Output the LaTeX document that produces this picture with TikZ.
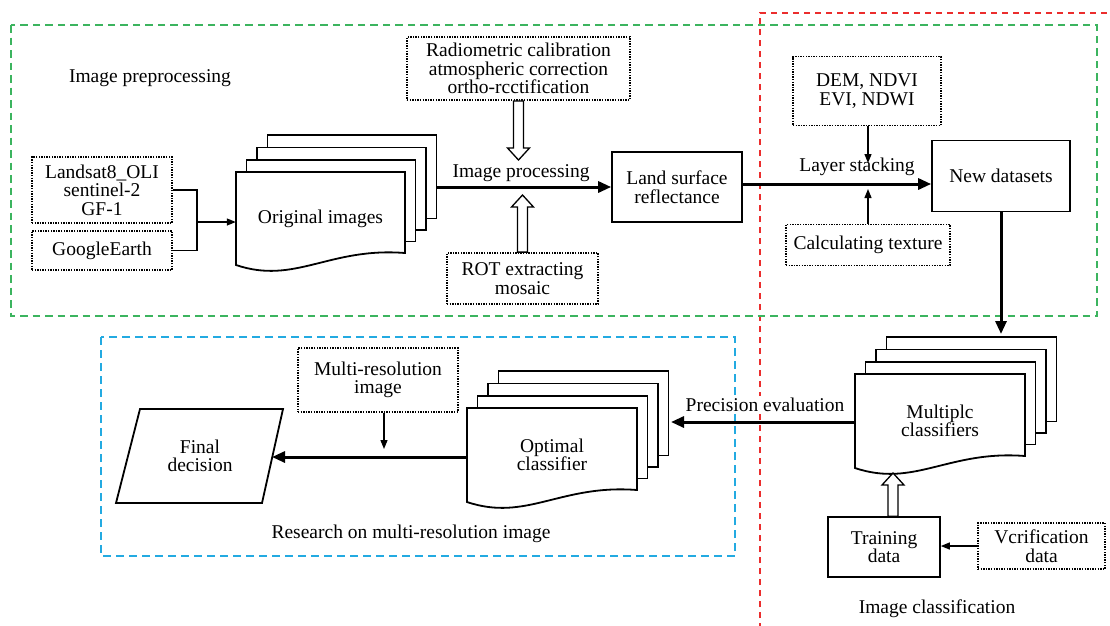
\documentclass[tikz,border=0pt]{standalone}
\usepackage{fontspec}
\setmainfont{Liberation Serif}
\newfontfamily\tnr{Liberation Serif}
\usetikzlibrary{arrows.meta,calc}
\definecolor{grn}{RGB}{60,180,95}
\definecolor{rd}{RGB}{235,45,45}
\definecolor{blu}{RGB}{35,170,225}
\tikzset{
  txt/.style={font=\tnr\rmfamily\fontsize{19.5}{18.5}\selectfont, align=center, inner sep=0pt},
  solidbox/.style={txt, draw, line width=1.6pt, fill=white},
  dotbox/.style={txt, draw, line width=1.8pt, dash pattern=on 1.4pt off 1.2pt, fill=white},
  sheet/.style={draw, line width=1.8pt, fill=white, line join=miter},
  thick arrow/.style={line width=3pt, -{Triangle[length=13pt,width=11pt]}},
  thin arrow/.style={line width=1.3pt, -{Triangle[length=9pt,width=7pt]}},
  plain line/.style={line width=1.8pt},
  hollow/.style={draw, line width=1.3pt, fill=white, line join=miter},
}
\newcommand\docstack[6]{%
  \foreach \k in {3,2,1} {
    \draw[sheet] ({#2+10.5*\k},{#3-12.3*\k}) rectangle ({#4+10.5*\k},{#5-12-11.5*\k});
  }
  \draw[sheet] (#2,#3) -- (#4,#3) -- (#4,{#5-12}) .. controls ({#2+0.55*(#4-#2)},{#5-18}) and ({#2+0.35*(#4-#2)},{#5+20}) .. (#2,#5) -- cycle;
  \node[txt, minimum width={(#4-#2)*1pt}, minimum height={(#5-#3)*1pt}] (#1) at ({(#2+#4)/2},{(#3+#5)/2}) {#6};
}
\newcommand\hollowarrow[2]{%
  \path[hollow] let \p1=(#1), \p2=(#2), \n1={sign(\y2-\y1)} in
    ({\x1-5pt},\y1) -- ({\x1-5pt},{\y2-\n1*12pt}) -- ({\x1-11pt},{\y2-\n1*12pt}) -- (\x1,\y2)
    -- ({\x1+11pt},{\y2-\n1*12pt}) -- ({\x1+5pt},{\y2-\n1*12pt}) -- ({\x1+5pt},\y1) -- cycle;
}
\begin{document}
\begin{tikzpicture}[x=1pt,y=-1pt]
\useasboundingbox (0,0) rectangle (1110,625);
\fill[white] (0,0) rectangle (1110,625);

% region frames
\begin{scope}
\clip (0,0) rectangle (1110,625);
\draw[rd, line width=1.6pt, dash pattern=on 6pt off 5pt] (760,640) -- (760,13) -- (1125,13);
\end{scope}
\draw[grn, line width=2.2pt, dash pattern=on 7.5pt off 5pt] (11,25) rectangle (1097,316);
\draw[blu, line width=2.5pt, dash pattern=on 8pt off 5pt] (101,337) rectangle (735,556);

% region titles
\node[txt] (t1) at (150,78) {Image preprocessing};
\node[txt] (t2) at (411,534) {Research on multi-resolution image};
\node[txt] (t3) at (937,609) {Image classification};

% preprocessing
\node[dotbox, minimum width=140pt, minimum height=66pt] (land) at (102,190) {Landsat8\_OLI\\sentinel-2\\GF-1};
\node[dotbox, minimum width=140pt, minimum height=39pt] (ge) at (102,250.5) {GoogleEarth};
\docstack{orig}{236}{172}{405}{265}{Original images}
\coordinate (jn) at (197,222);
\coordinate (origback) at (437,187);
\draw[plain line] (land.east) -| (jn);
\draw[plain line] (ge.east) -| (jn);
\draw[thin arrow] (jn) -- (jn -| orig.west);

\node[dotbox, minimum width=223pt, minimum height=63pt] (rad) at (518.5,68.5) {Radiometric calibration\\atmospheric correction\\ortho-rcctification};
\node[dotbox, minimum width=151pt, minimum height=51pt] (rot) at (522.5,278.5) {ROT extracting\\mosaic};
\node[solidbox, minimum width=130pt, minimum height=70pt] (lsr) at (677,187) {Land surface\\reflectance};
\node[txt] (ip) at (521,173) {Image processing};
\coordinate (ipdown) at (520,160);
\coordinate (ipup) at (520,195);
\hollowarrow{rad.south}{ipdown}
\hollowarrow{rot.north}{ipup}
\draw[thick arrow] (origback) -- (origback -| lsr.west);

% layer stacking
\node[dotbox, minimum width=148pt, minimum height=69pt] (dem) at (867,91) {DEM, NDVI\\EVI, NDWI};
\node[dotbox, minimum width=164pt, minimum height=41pt] (calc) at (868,245) {Calculating texture};
\node[solidbox, minimum width=138pt, minimum height=71pt] (nd) at (1001,176) {New datasets};
\node[txt] (ls) at (857,167) {Layer stacking};
\coordinate (lsj) at (868,184);
\coordinate (lsdown) at (868,163);
\coordinate (lsup) at (868,189);
\draw[thick arrow] (lsr.east |- lsj) -- (nd.west |- lsj);
\draw[thin arrow] (dem.south -| lsdown) -- (lsdown);
\draw[thin arrow] (calc.north -| lsup) -- (lsup);

% classification
\docstack{mc}{855}{374}{1025}{468}{Multiplc\\classifiers}
\coordinate (mctop) at (1001,334);
\draw[thick arrow] (nd.south -| mctop) -- (mctop);
\node[solidbox, minimum width=112pt, minimum height=60pt] (train) at (884,547) {Training\\data};
\node[dotbox, minimum width=127pt, minimum height=46pt] (ver) at (1041.5,546) {Vcrification\\data};
\draw[thin arrow] (ver.west) -- (train.east |- ver.west);
\coordinate (mcbot) at (893,473);
\hollowarrow{train.north -| mcbot}{mcbot}

% multi-resolution research
\docstack{opt}{467}{408}{637}{502}{Optimal\\classifier}
\coordinate (optback) at (671,422);
\draw[thick arrow] (mc.west |- optback) -- (optback);
\node[txt, fill=white, inner sep=2pt] (pe) at (765,405) {Precision evaluation};

\node[dotbox, minimum width=160pt, minimum height=64pt] (mri) at (378,380) {Multi-resolution\\image};
\draw[line width=1.8pt] (140,409) -- (283,409) -- (262,503) -- (116,503) -- cycle;
\node[txt] (fd) at (200,456) {Final\\decision};
\coordinate (fdr) at (272,457);
\draw[thick arrow] (opt.west |- fdr) -- (fdr);
\coordinate (mrarrow) at (384,449);
\draw[thin arrow] (mri.south -| mrarrow) -- (mrarrow);
\end{tikzpicture}
\end{document}
